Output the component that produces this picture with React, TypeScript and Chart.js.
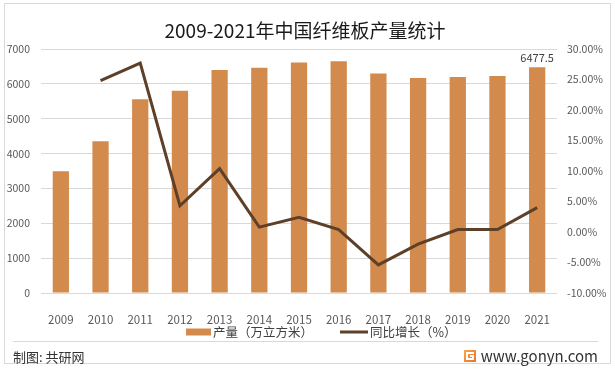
import React, { useEffect, useRef } from "react";
import { Chart, registerables } from "chart.js";

Chart.register(...registerables);

const years = ["2009", "2010", "2011", "2012", "2013", "2014", "2015", "2016", "2017", "2018", "2019", "2020", "2021"];
const output = [3490, 4355, 5560, 5800, 6400, 6465, 6615, 6650, 6300, 6165, 6200, 6226, 6477.5];
const growth = [null, 24.8, 27.7, 4.3, 10.4, 0.8, 2.4, 0.4, -5.4, -2.0, 0.4, 0.4, 4.0];

const TITLE = "2009-2021年中国纤维板产量统计";
const LEGEND_BAR = "产量（万立方米）";
const LEGEND_LINE = "同比增长（%）";
const SOURCE = "制图: 共研网";
const SITE = "www.gonyn.com";

const FONT = "'Microsoft YaHei', 'Noto Sans CJK SC', sans-serif";
const BAR_COLOR = "#D38B4D";
const LINE_COLOR = "#5E4028";

const decorPlugin = {
  id: "decor",
  beforeDraw(chart: any) {
    const ctx = chart.ctx;
    ctx.save();
    ctx.fillStyle = "#ffffff";
    ctx.fillRect(0, 0, chart.width, chart.height);
    ctx.restore();
  },
  afterDraw(chart: any) {
    const ctx = chart.ctx;
    ctx.save();
    // frame
    ctx.strokeStyle = "#d9d9d9";
    ctx.lineWidth = 1;
    ctx.strokeRect(4.5, 3.5, 606, 360);
    // title
    ctx.fillStyle = "#1a1a1a";
    ctx.font = `19px ${FONT}`;
    ctx.textAlign = "center";
    ctx.textBaseline = "middle";
    ctx.fillText(TITLE, 305, 31);
    // data label on last bar
    const meta = chart.getDatasetMeta(0);
    const last = meta.data[meta.data.length - 1];
    ctx.font = `11px ${FONT}`;
    ctx.fillStyle = "#404040";
    ctx.textBaseline = "bottom";
    ctx.fillText(String(output[output.length - 1]), last.x, last.y - 4);
    // legend
    const ly = 332;
    ctx.fillStyle = BAR_COLOR;
    ctx.fillRect(186, ly - 3.5, 25, 7);
    ctx.fillStyle = "#404040";
    ctx.font = `12.5px ${FONT}`;
    ctx.textAlign = "left";
    ctx.textBaseline = "middle";
    ctx.fillText(LEGEND_BAR, 213, ly);
    ctx.strokeStyle = LINE_COLOR;
    ctx.lineWidth = 3;
    ctx.beginPath();
    ctx.moveTo(340, ly);
    ctx.lineTo(368, ly);
    ctx.stroke();
    ctx.fillText(LEGEND_LINE, 370, ly);
    // separator
    ctx.strokeStyle = "#d9d9d9";
    ctx.lineWidth = 1;
    ctx.beginPath();
    ctx.moveTo(13, 341.5);
    ctx.lineTo(598, 341.5);
    ctx.stroke();
    // footer
    ctx.fillStyle = "#333333";
    ctx.font = `13px ${FONT}`;
    ctx.fillText(SOURCE, 13, 357);
    ctx.font = `15px ${FONT}`;
    ctx.textAlign = "right";
    ctx.fillText(SITE, 598, 356);
    // logo
    const g = ctx.createLinearGradient(464, 350, 476, 362);
    g.addColorStop(0, "#f7a84a");
    g.addColorStop(1, "#ef6f2a");
    ctx.fillStyle = g;
    ctx.fillRect(464, 350, 12, 12);
    ctx.strokeStyle = "#ffffff";
    ctx.lineWidth = 2;
    ctx.beginPath();
    ctx.moveTo(474, 353);
    ctx.lineTo(467, 353);
    ctx.lineTo(467, 359);
    ctx.lineTo(473, 359);
    ctx.lineTo(473, 356);
    ctx.lineTo(470, 356);
    ctx.stroke();
    ctx.restore();
  },
};

export default function App() {
  const ref = useRef<HTMLCanvasElement>(null);
  useEffect(() => {
    document.body.style.margin = "0";
    const chart = new Chart(ref.current!, {
      type: "bar",
      data: {
        labels: years,
        datasets: [
          {
            type: "bar",
            label: LEGEND_BAR,
            data: output,
            backgroundColor: BAR_COLOR,
            yAxisID: "y",
            categoryPercentage: 0.82,
            barPercentage: 0.5,
            order: 2,
          },
          {
            type: "line",
            label: LEGEND_LINE,
            data: growth as any,
            borderColor: LINE_COLOR,
            backgroundColor: LINE_COLOR,
            borderWidth: 3,
            pointRadius: 0,
            tension: 0,
            yAxisID: "y1",
            order: 1,
          },
        ],
      },
      options: {
        responsive: false,
        animation: false,
        devicePixelRatio: 1,
        layout: { padding: { top: 49, left: 0, right: 0, bottom: 0 } },
        plugins: { legend: { display: false }, title: { display: false }, tooltip: { enabled: false } },
        scales: {
          x: {
            grid: { display: false },
            border: { display: false },
            ticks: { color: "#595959", font: { family: FONT, size: 11.5 }, padding: 12, maxRotation: 0 },
            afterFit: (s: any) => { s.height = 78; },
          },
          y: {
            position: "left",
            min: 0,
            max: 7000,
            grid: { color: "#d9d9d9", drawTicks: false, lineWidth: 1 },
            border: { display: false },
            ticks: {
              stepSize: 1000,
              color: "#595959",
              font: { family: FONT, size: 10.5 },
              padding: 11,
              callback: (v: any) => String(v),
            },
            afterFit: (s: any) => { s.width = 41; },
          },
          y1: {
            position: "right",
            min: -10,
            max: 30,
            grid: { display: false, drawTicks: false },
            border: { display: false },
            ticks: {
              stepSize: 5,
              color: "#595959",
              font: { family: FONT, size: 10.5 },
              padding: 10,
              callback: (v: any) => `${Number(v).toFixed(2)}%`,
            },
            afterFit: (s: any) => { s.width = 58; },
          },
        },
      },
      plugins: [decorPlugin],
    });
    return () => chart.destroy();
  }, []);
  return <canvas ref={ref} width={615} height={371} style={{ display: "block", width: 615, height: 371 }} />;
}
